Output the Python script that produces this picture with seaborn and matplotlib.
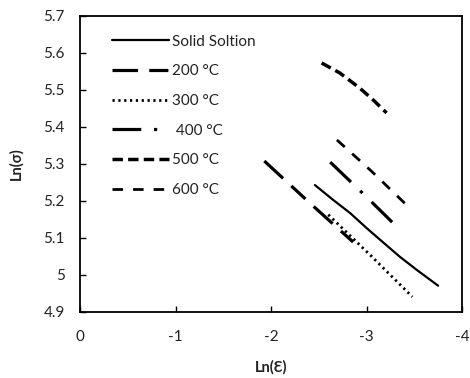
import matplotlib
matplotlib.use("Agg")
import matplotlib.pyplot as plt
import seaborn as sns
import pandas as pd
from matplotlib.ticker import FuncFormatter

# ---- data ----
series_names = ["Solid Soltion", "200 °C", "300 °C", " 400 °C", "500 °C", "600 °C"]
solid_x = [-2.46, -2.65, -2.83, -3.00, -3.17, -3.35, -3.53, -3.75]
solid_y = [5.242, 5.202, 5.166, 5.126, 5.088, 5.048, 5.012, 4.970]
t200_x = [-1.93, -2.40, -2.86]
t200_y = [5.307, 5.195, 5.088]
t300_x = [-2.60, -3.05, -3.48]
t300_y = [5.162, 5.050, 4.940]
t400_x = [-2.62, -3.00, -3.35]
t400_y = [5.304, 5.210, 5.121]
t500_x = [-2.53, -2.72, -2.93, -3.07, -3.21]
t500_y = [5.572, 5.545, 5.504, 5.472, 5.437]
t600_x = [-2.69, -3.05, -3.42]
t600_y = [5.364, 5.280, 5.188]

x_ticks = [0, -1, -2, -3, -4]
y_ticks = [4.9, 5.0, 5.1, 5.2, 5.3, 5.4, 5.5, 5.6, 5.7]

xs = [solid_x, t200_x, t300_x, t400_x, t500_x, t600_x]
ys = [solid_y, t200_y, t300_y, t400_y, t500_y, t600_y]
frames = [pd.DataFrame({"x": x, "y": y, "series": n}) for n, x, y in zip(series_names, xs, ys)]
df = pd.concat(frames, ignore_index=True)

styles = {
    "Solid Soltion": dict(lw=1.6, ls="-"),
    "200 °C": dict(lw=2.3, ls=(0, (8, 3.5, 6, 3.5))),
    "300 °C": dict(lw=2.0, ls=(0, (0.8, 1.3))),
    " 400 °C": dict(lw=2.3, ls=(0, (9, 4, 1, 4))),
    "500 °C": dict(lw=2.5, ls=(0, (3, 1.5))),
    "600 °C": dict(lw=2.0, ls=(0, (3.8, 3.6))),
}

sns.set_theme(style="white")
plt.rcParams["font.family"] = ["Lato", "DejaVu Sans"]
plt.rcParams["axes.unicode_minus"] = False

fig = plt.figure(figsize=(4.7, 3.78), dpi=100)
ax = fig.add_axes([80 / 470, 1 - 311.6 / 378, (462 - 80) / 470, (311.6 - 15.6) / 378])

for name in series_names:
    sub = df[df["series"] == name]
    st = styles[name]
    sns.lineplot(data=sub, x="x", y="y", ax=ax, color="black", sort=False,
                 linewidth=st["lw"], linestyle=st["ls"], label=name,
                 estimator=None)

ax.set_xlim(0, -4)
ax.set_ylim(4.9, 5.7)
ax.set_xticks(x_ticks)
ax.set_yticks(y_ticks)
ax.yaxis.set_major_formatter(FuncFormatter(lambda v, p: f"{v:g}"))
ax.xaxis.set_major_formatter(FuncFormatter(lambda v, p: f"{v:g}"))
ax.tick_params(axis="both", direction="in", length=4, width=1, colors="black",
               labelsize=11, labelcolor="#222222")
ax.tick_params(axis="y", pad=11, left=True)
ax.tick_params(axis="x", pad=13, bottom=True)
for s in ax.spines.values():
    s.set_color("black")
    s.set_linewidth(1.3)

ax.set_xlabel("Ln(Ɛ)", fontsize=10.5, fontweight="bold", color="#222222", labelpad=12)
ax.set_ylabel("Ln(σ)", fontsize=10.5, fontweight="bold", color="#222222", labelpad=14)

leg = ax.legend(loc="upper left", frameon=False, fontsize=11, handlelength=3.75,
                handletextpad=0.2, labelspacing=1.03, bbox_to_anchor=(0.06, 0.967),
                borderaxespad=0.2)
for t in leg.get_texts():
    t.set_color("#222222")

fig.savefig("out.png", dpi=100, facecolor="white")
